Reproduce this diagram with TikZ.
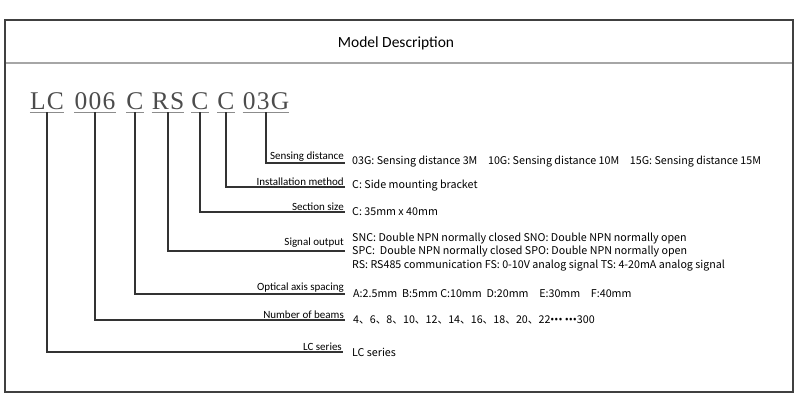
\documentclass[tikz,border=0pt]{standalone}
\usepackage{fontspec}
\setmainfont{Carlito}
\newfontfamily\codefont[LetterSpace=5]{Liberation Serif}
\newfontfamily\cjk{Noto Sans CJK SC}
\newfontfamily\dotfont{Open Sans}
\usetikzlibrary{positioning}
\tikzset{
  code/.style={font=\codefont\fontsize{25.5}{26}\selectfont, text=black!70, inner sep=0pt},
  uline/.style={draw=black!45, line width=0.9pt},
  link/.style={draw=black!80, line width=1.4pt},
  tag/.style={font=\fontsize{11}{12}\selectfont, inner sep=1pt, anchor=south east},
  desc/.style={font=\cjk\fontsize{10.7}{13.5}\selectfont, inner sep=0pt, anchor=west, align=left}
}
\begin{document}
\begin{tikzpicture}[x=1pt,y=-1pt]
      \useasboundingbox (0,0) rectangle (800,408);
      % frame and heading
      \draw[draw=black!75, line width=1.8pt] (5,20) rectangle (793,392);
      \draw[draw=black!35, line width=1.2pt] (6,63) -- (792,63);
      \node[font=\fontsize{15.5}{16}\selectfont] (title) at (396,43) {Model Description};

      % model code groups
      \node[code, anchor=base] (lc) at (47,109) {LC};
      \node[code, anchor=base] (beams) at (95,109) {006};
      \node[code, anchor=base] (axis) at (135,109) {C};
      \node[code, anchor=base] (sig) at (168,109) {RS};
      \node[code, anchor=base] (sect) at (200,109) {C};
      \node[code, anchor=base] (inst) at (226,109) {C};
      \node[code, anchor=base] (dist) at (266,109) {03G};
      \foreach \g in {lc,beams,axis,sig,sect,inst,dist}
        \draw[uline] ([yshift=-3pt]\g.base west) -- ([yshift=-3pt]\g.base east);

      % line ends
      \coordinate (distend) at (345,163);
      \coordinate (instend) at (345,187);
      \coordinate (sectend) at (345,212);
      \coordinate (sigend) at (345,251);
      \coordinate (axisend) at (345,294);
      \coordinate (beamsend) at (345,320);
      \coordinate (lcend) at (343,352);

      \draw[link] ([yshift=-3pt]dist.base) |- (distend);
      \draw[link] ([yshift=-3pt]inst.base) |- (instend);
      \draw[link] ([yshift=-3pt]sect.base) |- (sectend);
      \draw[link] ([yshift=-3pt]sig.base) |- (sigend);
      \draw[link] ([yshift=-3pt]axis.base) |- (axisend);
      \draw[link] ([yshift=-3pt]beams.base) |- (beamsend);
      \draw[link] ([yshift=-3pt]lc.base) |- (lcend);

      % labels above the lines
      \node[tag] (distl) at (distend) {Sensing distance};
      \node[tag] (instl) at (instend) {Installation method};
      \node[tag] (sectl) at (sectend) {Section size};
      \node[tag] (sigl) at ([yshift=2pt]sigend) {Signal output};
      \node[tag] (axisl) at (axisend) {Optical axis spacing};
      \node[tag] (beamsl) at (beamsend) {Number of beams};
      \node[tag] (lcl) at (lcend) {LC series};

      % descriptions
      \node[desc] (distd) at (352,162) {03G: Sensing distance 3M\quad 10G: Sensing distance 10M\quad 15G: Sensing distance 15M};
      \node[desc] (instd) at (352,186) {C: Side mounting bracket};
      \node[desc] (sectd) at (352,212) {C: 35mm x 40mm};
      \node[desc] (sigd) at (352,252) {SNC: Double NPN normally closed SNO: Double NPN normally open\\
        SPC:\ \ Double NPN normally closed SPO: Double NPN normally open\\
        RS: RS485 communication FS: 0-10V analog signal TS: 4-20mA analog signal};
      \node[desc] (axisd) at (353,294) {A:2.5mm\ \ B:5mm C:10mm\ \ D:20mm\quad E:30mm\quad F:40mm};
      \node[desc] (beamsd) at (353,320) {4、6、8、10、12、14、16、18、20、22{\dotfont•••} {\dotfont•••}300};
      \node[desc] (lcd) at (352,352) {LC series};
\end{tikzpicture}
\end{document}
